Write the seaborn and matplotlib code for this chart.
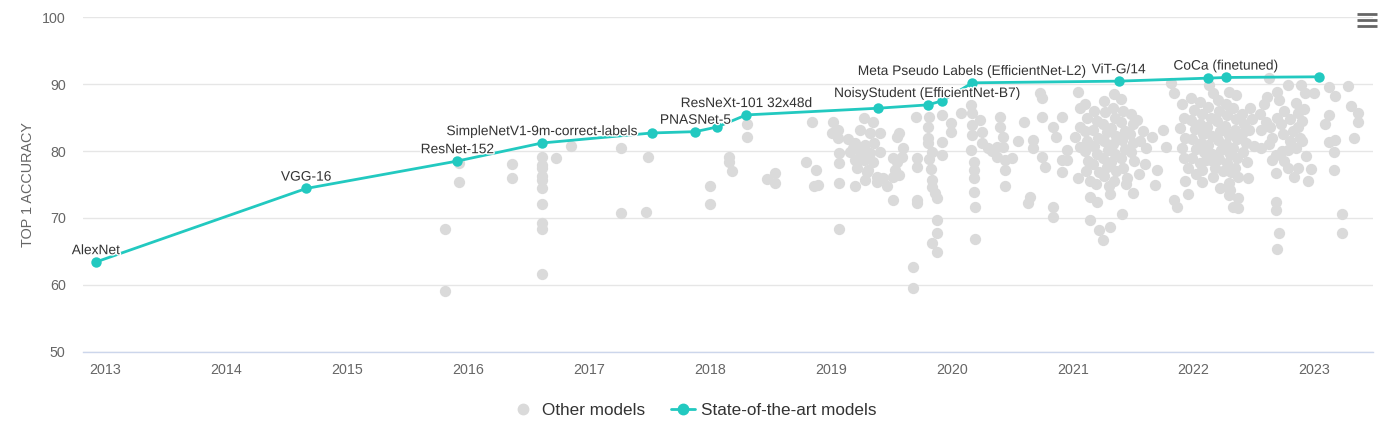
import matplotlib
matplotlib.use("Agg")
import matplotlib.pyplot as plt
import matplotlib.patheffects as pe
from matplotlib.lines import Line2D
import seaborn as sns
import pandas as pd

# State-of-the-art models (decimal year, top 1 accuracy)
sota_year = [2012.92, 2014.66, 2015.91, 2016.61, 2017.52, 2017.88, 2018.06, 2018.30,
             2019.39, 2019.80, 2019.92, 2020.17, 2021.38, 2022.12, 2022.27, 2023.04]
sota_acc = [63.4, 74.4, 78.5, 81.2, 82.7, 82.9, 83.6, 85.4,
            86.4, 86.9, 87.5, 90.2, 90.45, 90.9, 91.0, 91.1]
sota_name = ["AlexNet", "VGG-16", "ResNet-152", "SimpleNetV1-9m-correct-labels", "",
             "PNASNet-5", "", "ResNeXt-101 32x48d", "", "NoisyStudent (EfficientNet-B7)", "",
             "Meta Pseudo Labels (EfficientNet-L2)", "ViT-G/14", "", "CoCa (finetuned)", ""]

# Other models
early_year = [2015.81, 2015.81, 2015.92, 2015.92, 2016.36, 2016.36,
              2016.61, 2016.61, 2016.61, 2016.61, 2016.61, 2016.61, 2016.61, 2016.61, 2016.61, 2016.61,
              2016.73, 2016.85, 2017.26, 2017.26, 2017.49, 2017.47,
              2018.00, 2018.00, 2018.16, 2018.16, 2018.18, 2018.31, 2018.31, 2018.47, 2018.54, 2018.54]
early_acc = [68.3, 59.0, 78.2, 75.4, 78.0, 76.0,
             79.1, 77.9, 77.5, 76.2, 75.7, 74.4, 72.1, 69.3, 68.4, 61.6,
             79.0, 80.8, 80.5, 70.7, 79.1, 70.9,
             74.7, 72.1, 79.1, 78.4, 77.0, 84.0, 82.1, 75.8, 76.7, 75.2]

mid_year = [2018.84, 2018.79, 2018.88, 2018.86, 2018.89,
            2019.02, 2019.06, 2019.06, 2019.07, 2019.07, 2019.07, 2019.07, 2019.01,
            2019.27, 2019.35, 2019.24, 2019.32, 2019.41, 2019.20, 2019.28, 2019.36, 2019.16, 2019.24,
            2019.32, 2019.41, 2019.20, 2019.27, 2019.35, 2019.22, 2019.31, 2019.38, 2019.43, 2019.28,
            2019.20, 2019.38, 2019.46, 2019.14, 2019.18, 2019.30,
            2019.55, 2019.56, 2019.51, 2019.55, 2019.59, 2019.53, 2019.51, 2019.56, 2019.60, 2019.51,
            2019.70, 2019.71, 2019.71, 2019.71, 2019.71, 2019.68, 2019.68,
            2019.81, 2019.80, 2019.80, 2019.80, 2019.81, 2019.84, 2019.83, 2019.84, 2019.84, 2019.86,
            2019.88, 2019.88, 2019.88, 2019.84, 2019.88, 2019.92, 2019.92, 2019.92, 2019.99, 2019.99,
            2020.08, 2020.16, 2020.17, 2020.17, 2020.17, 2020.16, 2020.18, 2020.18, 2020.18, 2020.18,
            2020.19, 2020.19, 2020.23, 2020.25, 2020.25, 2020.30, 2020.37, 2020.37]
mid_acc = [84.4, 78.4, 77.2, 74.8, 74.9,
           84.4, 83.2, 82.0, 79.7, 78.2, 75.2, 68.3, 82.7,
           84.9, 84.4, 83.2, 82.7, 82.7, 81.2, 80.9, 81.2, 79.9, 79.9,
           79.7, 79.9, 78.7, 78.7, 78.4, 77.5, 77.2, 76.1, 76.0, 75.7,
           74.8, 75.4, 74.8, 81.8, 80.5, 76.8,
           82.1, 82.7, 79.0, 78.4, 79.1, 77.2, 76.1, 76.4, 80.5, 72.7,
           85.1, 79.0, 77.6, 72.7, 72.2, 62.7, 59.5,
           85.1, 83.6, 81.9, 81.2, 78.8, 79.9, 77.3, 75.7, 74.6, 73.7,
           73.0, 69.7, 67.7, 66.2, 64.9, 85.4, 81.4, 79.4, 84.2, 82.9,
           85.7, 86.9, 85.7, 83.9, 82.4, 80.2, 78.4, 77.2, 76.0, 73.9,
           71.6, 66.8, 84.6, 82.9, 81.2, 80.5, 80.6, 79.1]

y2020_year = [2020.40, 2020.40, 2020.42, 2020.42, 2020.44, 2020.44, 2020.44, 2020.33,
              2020.73, 2020.75, 2020.75, 2020.67, 2020.67, 2020.75, 2020.77, 2020.65, 2020.63,
              2020.84, 2020.84, 2020.91, 2020.84, 2020.86, 2020.95, 2020.91, 2020.91, 2020.95,
              2021.04, 2021.06, 2021.06, 2021.02, 2021.06, 2021.04, 2020.60, 2020.55, 2020.50]
y2020_acc = [85.1, 83.6, 82.1, 80.6, 78.7, 77.2, 74.7, 80.0,
             88.7, 87.9, 85.1, 81.6, 80.4, 79.1, 77.6, 73.1, 72.2,
             71.7, 70.2, 85.1, 83.6, 82.1, 80.2, 78.7, 76.9, 78.7,
             88.9, 86.4, 83.6, 82.1, 80.6, 76.0, 84.4, 81.5, 79.0]

y2021_year = [2021.14, 2021.20, 2021.14, 2021.22, 2021.31, 2021.25, 2021.41, 2021.50, 2021.45,
              2021.10, 2021.12, 2021.10, 2021.12, 2021.10, 2021.13, 2021.11, 2021.14,
              2021.18, 2021.20, 2021.17, 2021.21, 2021.18, 2021.20, 2021.17, 2021.22, 2021.19,
              2021.26, 2021.27, 2021.25, 2021.28, 2021.26, 2021.29, 2021.25, 2021.28, 2021.26, 2021.30,
              2021.34, 2021.33, 2021.35, 2021.32, 2021.36, 2021.33, 2021.35, 2021.32, 2021.36, 2021.34,
              2021.31, 2021.40, 2021.42, 2021.40, 2021.43, 2021.41, 2021.43, 2021.40, 2021.42, 2021.44,
              2021.48, 2021.50, 2021.47, 2021.50, 2021.48, 2021.51,
              2021.53, 2021.58, 2021.61, 2021.56, 2021.66, 2021.75, 2021.77, 2021.70, 2021.68,
              2021.81, 2021.84, 2021.84, 2021.86, 2021.60, 2021.55]
y2021_acc = [73.1, 72.4, 69.7, 68.2, 68.7, 66.7, 70.6, 73.7, 76.0,
             87.0, 85.0, 83.0, 81.5, 80.0, 78.5, 77.0, 75.5,
             86.0, 84.5, 83.2, 82.0, 80.8, 79.5, 78.0, 76.8, 75.0,
             87.5, 85.8, 84.0, 82.8, 81.5, 80.2, 79.0, 77.6, 76.3, 74.8,
             88.6, 86.5, 85.0, 83.5, 82.2, 81.0, 79.6, 78.3, 77.0, 75.5,
             73.5, 87.8, 86.0, 84.3, 83.0, 81.6, 80.3, 78.9, 77.4, 75.0,
             85.5, 84.0, 82.6, 81.2, 79.8, 78.5,
             84.6, 83.0, 80.4, 81.5, 82.1, 83.2, 80.6, 77.2, 74.9,
             90.2, 88.7, 72.7, 71.7, 78.0, 76.5]

late_year = [2022.13, 2022.16, 2022.29, 2022.35, 2022.07, 2022.07, 2022.16, 2022.14, 2022.10,
             2022.29, 2022.29, 2022.37, 2022.33, 2022.37, 2022.45, 2022.37,
             2022.62, 2022.69, 2022.61, 2022.71, 2022.78, 2022.89, 2022.92, 2023.00, 2022.85,
             2022.86, 2022.86, 2022.88, 2022.85, 2022.78, 2022.56, 2022.56, 2022.63, 2022.65,
             2022.69, 2022.68, 2022.65, 2022.68, 2022.78, 2022.83, 2022.86, 2022.68, 2022.68,
             2022.71, 2022.69,
             2023.12, 2023.17, 2023.28, 2023.30, 2023.36, 2023.36, 2023.33, 2023.12, 2023.09,
             2023.12, 2023.17, 2023.16, 2023.16, 2023.23, 2023.23,
             2021.90, 2021.92, 2021.89, 2021.93, 2021.90, 2021.92, 2021.95, 2021.93, 2021.95,
             2021.98, 2022.00, 2021.98, 2022.01, 2021.99, 2022.02, 2021.99, 2022.02,
             2022.05, 2022.07, 2022.05, 2022.08, 2022.06, 2022.09, 2022.05,
             2022.12, 2022.14, 2022.11, 2022.15, 2022.12, 2022.15, 2022.18,
             2022.20, 2022.21, 2022.19, 2022.22, 2022.20, 2022.23, 2022.21, 2022.24, 2022.22,
             2022.27, 2022.28, 2022.26, 2022.29, 2022.27, 2022.30, 2022.28, 2022.31, 2022.30,
             2022.33, 2022.35, 2022.34, 2022.36, 2022.33, 2022.36, 2022.34,
             2022.40, 2022.42, 2022.40, 2022.43, 2022.41, 2022.44,
             2022.48, 2022.46, 2022.50, 2022.47,
             2022.55, 2022.58, 2022.60, 2022.62, 2022.72, 2022.74, 2022.75, 2022.80, 2022.82,
             2022.80, 2022.90, 2022.91, 2022.73, 2022.75, 2022.90, 2022.93, 2022.97, 2022.95]
late_acc = [89.9, 88.7, 88.9, 88.4, 77.2, 75.4, 76.1, 78.7, 78.7,
            75.2, 73.4, 73.0, 71.7, 71.5, 76.0, 76.1,
            90.9, 88.9, 88.1, 87.6, 89.9, 89.9, 88.7, 88.7, 87.2,
            85.7, 83.6, 82.0, 80.4, 80.2, 83.2, 80.4, 83.6, 82.0,
            85.0, 79.4, 78.7, 76.7, 77.5, 76.1, 77.5, 72.4, 71.2,
            67.7, 65.3,
            89.6, 88.2, 89.7, 86.7, 85.7, 84.4, 82.0, 85.4, 84.0,
            81.4, 81.7, 79.9, 77.2, 70.6, 67.7,
            87.0, 85.0, 83.5, 82.0, 80.5, 79.0, 77.5, 75.5, 73.5,
            88.0, 86.2, 84.6, 83.3, 81.8, 80.3, 78.9, 76.6,
            87.3, 85.6, 84.0, 82.6, 81.2, 79.8, 78.2,
            86.6, 85.0, 83.6, 82.3, 80.9, 79.5, 77.5,
            87.6, 86.0, 84.5, 83.0, 81.6, 80.2, 78.8, 77.0, 74.5,
            87.0, 85.4, 83.8, 82.4, 81.0, 79.6, 78.2, 76.8, 74.2,
            86.4, 84.8, 83.2, 81.8, 80.4, 79.0, 77.4,
            85.6, 84.0, 82.6, 81.2, 79.8, 78.4,
            84.8, 83.2, 80.8, 86.4,
            85.5, 87.0, 84.4, 81.0, 84.0, 82.5, 86.0, 84.8, 83.0,
            81.5, 84.5, 86.3, 80.0, 78.5, 81.5, 79.2, 77.3, 75.5]

year_ticks = list(range(2013, 2024))

others = pd.DataFrame({
    "year": early_year + mid_year + y2020_year + y2021_year + late_year,
    "acc": early_acc + mid_acc + y2020_acc + y2021_acc + late_acc,
})
sota = pd.DataFrame({"year": sota_year, "acc": sota_acc, "name": sota_name})

sns.set_style("white")
plt.rcParams["font.family"] = ["Liberation Sans", "DejaVu Sans"]

gray = "#dadada"
teal = "#22c9c0"
text_col = "#333333"
axis_col = "#666666"

fig = plt.figure(figsize=(13.88, 4.32), dpi=100)
ax = fig.add_axes([0.0598, 0.186, 0.9294, 0.774])

sns.scatterplot(data=others, x="year", y="acc", ax=ax, color=gray, s=66,
                linewidth=0, zorder=2, legend=False)
sns.lineplot(data=sota, x="year", y="acc", ax=ax, color=teal, sort=False,
             linewidth=2, marker="o", markersize=7.5, markeredgewidth=0,
             zorder=3, legend=False)

halo = [pe.withStroke(linewidth=2, foreground="white")]
for _, row in sota.iterrows():
    if row["name"]:
        ax.annotate(row["name"], (row["year"], row["acc"]), xytext=(0, 3.5),
                    textcoords="offset points", ha="center", va="bottom",
                    fontsize=9.9, color=text_col, path_effects=halo, zorder=4)

ax.set_xlim(2012.814, 2023.484)
ax.set_ylim(50, 100)
ax.set_xticks(year_ticks)
ax.set_xticklabels([str(y) for y in year_ticks])
ax.set_yticks([50, 60, 70, 80, 90, 100])
ax.grid(axis="y", color="#e6e6e6", linewidth=1)
ax.grid(axis="x", visible=False)
for side in ["top", "right", "left"]:
    ax.spines[side].set_visible(False)
ax.spines["bottom"].set_color("#ccd6eb")
ax.spines["bottom"].set_linewidth(1)
ax.tick_params(axis="x", length=7, width=1, color="#ccd6eb", pad=1.5,
               labelsize=10.3, labelcolor=axis_col)
ax.tick_params(axis="y", length=0, pad=12.5, labelsize=10.3, labelcolor=axis_col)
ax.set_xlabel("")
ax.set_ylabel("TOP 1 ACCURACY", fontsize=10.4, color=axis_col)
ax.yaxis.set_label_coords(-0.037, 0.5)

handles = [
    Line2D([], [], linestyle="none", marker="o", markersize=7.5, color=gray),
    Line2D([], [], color=teal, linewidth=2, marker="o", markersize=7.5),
]
fig.legend(handles, ["Other models", "State-of-the-art models"], loc="center",
           bbox_to_anchor=(0.5, 0.049), ncol=2, frameon=False, fontsize=12.3,
           labelcolor=text_col, handlelength=1.4, columnspacing=1.5, handletextpad=0.4)

# menu icon in the top right corner
for yy in [13.5, 19.5, 25.5]:
    fig.add_artist(Line2D([1357 / 1388, 1377 / 1388], [1 - yy / 432, 1 - yy / 432],
                          color="#666666", linewidth=2, solid_capstyle="butt"))

fig.savefig("out.png", dpi=100)
